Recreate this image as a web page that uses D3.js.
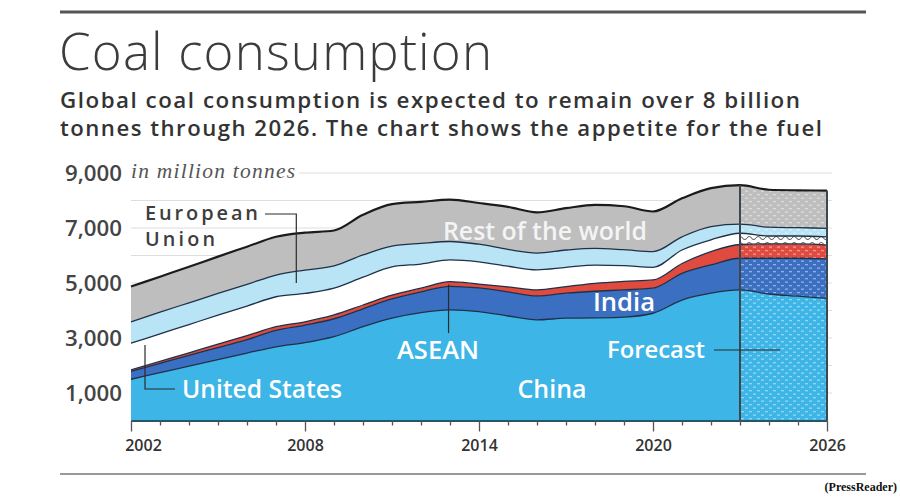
<!DOCTYPE html>
<html>
<meta charset="utf-8">
<style>
    body{ margin: 0; background: #fff; }
    svg{ display: block; }
</style>
<body>
<svg width="900" height="500"></svg>
<script src="https://d3js.org/d3.v7.min.js"></script>
<script>

    // data, million tonnes (2024-2026 = forecast)
    const years = [2002, 2003, 2004, 2005, 2006, 2007, 2008, 2009, 2010, 2011, 2012, 2013, 2014,
        2015, 2016, 2017, 2018, 2019, 2020, 2021, 2022, 2023, 2024, 2025, 2026];
    const china = [1500, 1740, 1980, 2210, 2450, 2680, 2830, 3050, 3410, 3720, 3920, 4020, 3960,
        3800, 3660, 3720, 3730, 3760, 3900, 4380, 4630, 4750, 4600, 4520, 4440];
    const india = [290, 340, 390, 440, 490, 600, 640, 650, 650, 700, 760, 860, 860,
        880, 870, 910, 970, 990, 910, 970, 1030, 1150, 1300, 1380, 1440];
    const asean = [50, 70, 90, 130, 150, 130, 120, 140, 140, 140, 130, 170, 140,
        180, 220, 240, 290, 310, 300, 360, 480, 500, 520, 520, 500];
    const unitedStates = [970, 1000, 1030, 1050, 1070, 1090, 1030, 970, 1010, 1030, 880, 790, 810,
        750, 730, 700, 660, 570, 460, 490, 430, 410, 290, 290, 300];
    const europeanUnion = [780, 790, 790, 790, 790, 790, 850, 810, 810, 750, 750, 670, 640,
        610, 610, 630, 610, 580, 570, 480, 480, 330, 320, 300, 310];
    const restOfWorld = [1280, 1290, 1310, 1340, 1370, 1390, 1360, 1290, 1460, 1530, 1510, 1520, 1500,
        1550, 1480, 1520, 1580, 1580, 1460, 1400, 1400, 1420, 1360, 1360, 1370];

    const keys = ["China", "India", "ASEAN", "United States", "European Union", "Rest of the world"];
    const colors = ["#3db5e6", "#3b6fc2", "#e04a3f", "#ffffff", "#b9e4f5", "#bebebe"];
    const labelYears = [2002, 2008, 2014, 2020, 2026];
    const yLabels = [1000, 3000, 5000, 7000, 9000];
    const gridValues = [1000, 2000, 3000, 4000, 5000, 6000, 7000, 8000, 9000];
    const forecastFrom = 2023;

    let table = years.map(function (yr, i) {
        return {
            year: yr, "China": china[i], "India": india[i], "ASEAN": asean[i],
            "United States": unitedStates[i], "European Union": europeanUnion[i],
            "Rest of the world": restOfWorld[i]
        };
    });

    let svg = d3.select("svg"),
        sans = "'Open Sans', 'Noto Sans', sans-serif",
        serif = "'Liberation Serif', 'DejaVu Serif', serif";

    let x = d3.scaleLinear().domain([2002, 2026]).range([131, 827]);
    let y = d3.scaleLinear().domain([0, 9000]).range([420.5, 173]);

    // scale font so the text is w px wide
    function fit(sel, w) {
        let fs = parseFloat(sel.attr("font-size"));
        let len = sel.node().getComputedTextLength();
        sel.attr("font-size", (fs * w / len).toFixed(2));
        return sel;
    }
    // mostly font size, a little letter spacing
    function fitMix(sel, w, k) {
        fit(sel, w * k);
        return sel.attr("textLength", w).attr("lengthAdjust", "spacing");
    }

    // rules top and bottom
    svg.append("line").attr("x1", 60).attr("x2", 866).attr("y1", 12).attr("y2", 12)
        .attr("stroke", "#555").attr("stroke-width", 3);
    svg.append("line").attr("x1", 60).attr("x2", 866).attr("y1", 474).attr("y2", 474)
        .attr("stroke", "#777").attr("stroke-width", 1.5);

    // title + subtitle
    fitMix(svg.append("text").attr("x", 59).attr("y", 70)
        .attr("font-family", sans).attr("font-weight", 300).attr("font-size", 42)
        .attr("fill", "#3c3c3c").text("Coal consumption"), 433, 0.96);
    fitMix(svg.append("text").attr("x", 60).attr("y", 108)
        .attr("font-family", sans).attr("font-weight", 600).attr("font-size", 19)
        .attr("fill", "#333").text("Global coal consumption is expected to remain over 8 billion"), 740, 0.88);
    fitMix(svg.append("text").attr("x", 60).attr("y", 136)
        .attr("font-family", sans).attr("font-weight", 600).attr("font-size", 19)
        .attr("fill", "#333").text("tonnes through 2026. The chart shows the appetite for the fuel"), 762, 0.88);

    // unit label and gridlines
    fitMix(svg.append("text").attr("x", 131).attr("y", y(9000) + 5)
        .attr("font-family", serif).attr("font-style", "italic")
        .attr("font-size", 16).attr("fill", "#555").text("in million tonnes"), 164, 0.88);
    let unitEnd = 131 + 164 + 4;

    svg.append("g").selectAll("line").data(gridValues).enter().append("line")
        .attr("x1", function (d) { return d === 9000 ? unitEnd : x(2002); })
        .attr("x2", 832)
        .attr("y1", function (d) { return y(d); })
        .attr("y2", function (d) { return y(d); })
        .attr("stroke", "#dedede").attr("stroke-width", 1);

    // y labels
    let yl = svg.append("g").selectAll("text").data(yLabels).enter().append("text")
        .attr("x", 122).attr("y", function (d) { return y(d); }).attr("dy", "0.36em")
        .attr("text-anchor", "end").attr("font-family", sans).attr("font-weight", 600)
        .attr("font-size", 16).attr("fill", "#444").text(d3.format(","));
    fit(d3.select(yl.nodes()[4]), 57);
    yl.attr("font-size", d3.select(yl.nodes()[4]).attr("font-size"));

    // stacked areas
    let series = d3.stack().keys(keys)(table);

    let area = d3.area()
        .curve(d3.curveMonotoneX)
        .x(function (d) { return x(d.data.year); })
        .y0(function (d) { return y(d[0]); })
        .y1(function (d) { return y(d[1]); });

    let line = d3.line()
        .curve(d3.curveMonotoneX)
        .x(function (d) { return x(d.data.year); })
        .y(function (d) { return y(d[1]); });

    svg.append("g").selectAll("path").data(series).enter().append("path")
        .attr("d", area)
        .attr("fill", function (d, i) { return colors[i]; });

    // forecast textures
    let defs = svg.append("defs");
    let dots = defs.append("pattern").attr("id", "dots").attr("patternUnits", "userSpaceOnUse")
        .attr("width", 8).attr("height", 7);
    dots.append("rect").attr("x", 1).attr("y", 1.5).attr("width", 3).attr("height", 1.3)
        .attr("fill", "#fff").attr("opacity", 0.45);
    dots.append("rect").attr("x", 5).attr("y", 5).attr("width", 3).attr("height", 1.3)
        .attr("fill", "#fff").attr("opacity", 0.45);
    let wave = defs.append("pattern").attr("id", "wave").attr("patternUnits", "userSpaceOnUse")
        .attr("width", 9).attr("height", 6);
    wave.append("path").attr("d", "M0,4 Q2.25,1 4.5,4 T9,4")
        .attr("fill", "none").attr("stroke", "#666").attr("stroke-width", 1.1);
    defs.append("clipPath").attr("id", "fc").append("rect")
        .attr("x", x(forecastFrom)).attr("y", 0)
        .attr("width", x(2026) - x(forecastFrom)).attr("height", 500);

    svg.append("g").attr("clip-path", "url(#fc)")
        .selectAll("path").data(series).enter().append("path")
        .attr("d", area)
        .attr("fill", function (d) { return d.key === "United States" ? "url(#wave)" : "url(#dots)"; });

    // layer boundaries
    svg.append("g").selectAll("path").data(series.slice(0, 5)).enter().append("path")
        .attr("d", line)
        .attr("fill", "none")
        .attr("stroke", "#1e3148")
        .attr("stroke-width", 1.3);
    svg.append("path").datum(series[5])
        .attr("d", line)
        .attr("fill", "none")
        .attr("stroke", "#1b1b1b")
        .attr("stroke-width", 2.2);

    // forecast frame
    let last = series[5];
    [forecastFrom, 2026].forEach(function (yr) {
        let p = last[years.indexOf(yr)];
        svg.append("line")
            .attr("x1", x(yr)).attr("x2", x(yr))
            .attr("y1", y(0)).attr("y2", y(p[1]))
            .attr("stroke", "#3d4750").attr("stroke-width", 2);
    });

    // x axis
    let xAxis = svg.append("g")
        .attr("transform", "translate(0," + y(0) + ")")
        .call(d3.axisBottom(x)
            .tickValues(years)
            .tickSize(5)
            .tickSizeOuter(0)
            .tickFormat(function (d) { return labelYears.indexOf(d) >= 0 ? d : ""; }));
    xAxis.select(".domain").attr("stroke", "#2a5566").attr("stroke-width", 2);
    xAxis.selectAll(".tick line").attr("stroke", "#555").attr("stroke-width", 1.3)
        .attr("y2", function (d) { return labelYears.indexOf(d) >= 0 ? 11 : 5; });
    xAxis.selectAll(".tick text")
        .attr("y", 19)
        .attr("font-family", sans).attr("font-weight", 600).attr("font-size", 16)
        .attr("fill", "#333")
        .attr("x", function (d) { return d === 2002 ? 12 : 0; });

    // annotations
    function label(txt, lx, ly, color, anchor) {
        return svg.append("text").attr("x", lx).attr("y", ly).attr("dy", "0.35em")
            .attr("text-anchor", anchor || "start")
            .attr("font-family", sans).attr("font-weight", 600).attr("font-size", 18)
            .attr("fill", color).text(txt);
    }
    function leader(pts) {
        svg.append("path").attr("d", d3.line()(pts))
            .attr("fill", "none").attr("stroke", "#2b2b2b").attr("stroke-width", 1.2);
    }

    fitMix(label("European", 145, 213, "#3d3d3d"), 113, 0.82);
    fitMix(label("Union", 145, 239, "#3d3d3d"), 70, 0.82);
    leader([[265, 214], [x(2007.7), 214], [x(2007.7), y(5000)]]);

    fit(label("Rest of the world", 545, 231, "#f4f4f4", "middle"), 204);
    fit(label("India", 624, 302, "#ffffff", "middle"), 62);

    leader([[x(2012.95), y(4950)], [x(2012.95), 333]]);
    fit(label("ASEAN", 438, 350, "#ffffff", "middle"), 82);

    leader([[145, y(2750)], [145, 389], [175, 389]]);
    fit(label("United States", 182, 389, "#ffffff"), 160);

    fit(label("China", 552, 389, "#ffffff", "middle"), 69);

    fit(label("Forecast", 607, 350, "#ffffff"), 98);
    leader([[714, 350], [780, 350]]);

    svg.append("text").attr("x", 897).attr("y", 491).attr("text-anchor", "end")
        .attr("font-family", serif).attr("font-weight", 700)
        .attr("font-size", 12).attr("fill", "#111").text("(PressReader)");

</script>
</body>
</html>
